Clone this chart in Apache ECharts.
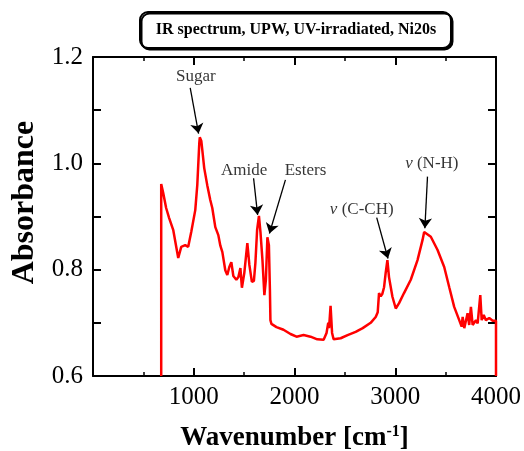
<!DOCTYPE html>
<html>
<head>
<meta charset="utf-8">
<script src="https://cdn.jsdelivr.net/npm/echarts@6/dist/echarts.min.js"></script>
<style>
html,body{margin:0;padding:0;background:#fff;}
#main{width:524px;height:451px;}
</style>
</head>
<body>
<div id="main"></div>
<script>
// spectrum (cm-1, absorbance)
var waveNum = [677,677,697,726,756,796,826,846,876,915,945,975,1015,1035,1055,1060,1075,1085,1104,1134,
	1164,1184,1214,1244,1264,1284,1313,1333,1353,1373,1393,1423,1443,1463,1478,1502,1532,1552,1577,1597,
	1612,1629,1647,1662,1682,1701,1716,1731,1746,1756,1761,1771,1821,1891,1960,2020,2090,2159,2226,2289,
	2318,2335,2343,2358,2373,2388,2458,2527,2607,2677,2756,2806,2826,2839,2856,2871,2889,2905,2922,2938,
	2972,3005,3038,3087,3154,3221,3271,3287,3353,3420,3486,3536,3585,3635,3659,3669,3685,3718,3734,3751,
	3768,3801,3818,3844,3858,3878,3900,3933,3967,4000,4000];
var absorb = [0.600,0.961,0.944,0.916,0.897,0.875,0.843,0.822,0.843,0.846,0.843,0.871,0.912,0.959,1.038,1.049,1.042,1.025,0.991,0.959,
	0.931,0.916,0.880,0.865,0.845,0.833,0.799,0.790,0.805,0.814,0.788,0.781,0.786,0.803,0.766,0.794,0.850,0.809,0.777,0.779,
	0.813,0.875,0.901,0.871,0.818,0.752,0.781,0.861,0.846,0.762,0.705,0.698,0.692,0.687,0.679,0.674,0.677,0.674,0.669,0.668,
	0.681,0.700,0.690,0.732,0.681,0.669,0.671,0.677,0.683,0.690,0.700,0.711,0.720,0.756,0.750,0.754,0.767,0.794,0.818,0.786,
	0.749,0.727,0.737,0.756,0.781,0.818,0.856,0.871,0.862,0.837,0.805,0.767,0.730,0.705,0.693,0.711,0.690,0.718,0.696,0.730,
	0.696,0.705,0.699,0.752,0.705,0.715,0.705,0.709,0.704,0.704,0.600];

var xTicks = [0, 1000, 2000, 3000, 4000];
var yTicks = [0.6, 0.8, 1.0, 1.2];

// peak labels: text, text position, arrow start, arrow tip
var annoText = ['Sugar', 'Amide', 'Esters', '{i|ν} (C-CH)', '{i|ν} (N-H)'];
var annoPos = [[1020,1.163],[1500,0.986],[2109,0.986],[2667,0.914],[3363,1.000]];
var arrowFrom = [[965,1.142],[1594,0.972],[1910,0.969],[2816,0.898],[3320,0.975]];
var arrowTo = [[1048,1.056],[1634,0.903],[1751,0.868],[2928,0.821],[3294,0.878]];

var serif = '"Liberation Serif", "Times New Roman", serif';

var spec = [];
for (var i = 0; i < waveNum.length; i++) {
	spec.push([waveNum[i], absorb[i]]);
}
var labelData = [];
var arrowData = [];
for (var j = 0; j < annoText.length; j++) {
	labelData.push({value: annoPos[j], name: annoText[j]});
	arrowData.push([{coord: arrowFrom[j]}, {coord: arrowTo[j]}]);
}

var myChart = echarts.init(document.getElementById('main'));

var tickStyle = {show: true, inside: true, length: 8, lineStyle: {color: '#000', width: 2}};
var minorStyle = {show: true, splitNumber: 2, length: 4, lineStyle: {color: '#000', width: 1.5}};
var lineSt = {show: true, onZero: false, lineStyle: {color: '#000', width: 2}};

option = {
	animation: false,
	backgroundColor: '#fff',
	graphic: [
		{
			type: 'rect',
			shape: {x: 140, y: 12, width: 311, height: 36, r: 8},
			style: {fill: '#fff', stroke: '#000', lineWidth: 2, shadowColor: '#000', shadowOffsetX: 1.5, shadowOffsetY: 1.5}
		},
		{
			type: 'text',
			x: 296, y: 30,
			style: {
				text: 'IR spectrum, UPW, UV-irradiated, Ni20s',
				fontFamily: serif, fontWeight: 'bold', fontSize: 16,
				fill: '#000', align: 'center', verticalAlign: 'middle'
			}
		}
	],
	grid: {left: 93, right: 28, top: 57, bottom: 75, outerBoundsMode: 'none', containLabel: false},
	xAxis: [
		{
			type: 'value',
			min: xTicks[0], max: xTicks[xTicks.length - 1], interval: 1000,
			position: 'bottom',
			axisLine: lineSt,
			axisTick: tickStyle,
			minorTick: minorStyle,
			splitLine: {show: false},
			axisLabel: {
				color: '#000', fontFamily: serif, fontSize: 25, margin: 9,
				formatter: function (v) { return v == 0 ? '' : v; }
			},
			name: 'Wavenumber [cm{sup|-1}]',
			nameLocation: 'middle',
			nameGap: 48,
			nameTextStyle: {
				color: '#000', fontFamily: serif, fontWeight: 'bold', fontSize: 27,
				rich: {sup: {fontFamily: serif, fontWeight: 'bold', fontSize: 16, verticalAlign: 'top', padding: [0, 0, 12, 0]}}
			}
		},
		{
			type: 'value',
			min: 0, max: 4000, interval: 1000,
			position: 'top',
			axisLine: lineSt,
			axisTick: tickStyle,
			minorTick: minorStyle,
			splitLine: {show: false},
			axisLabel: {show: false}
		}
	],
	yAxis: [
		{
			type: 'value',
			min: yTicks[0], max: yTicks[yTicks.length - 1], interval: 0.2,
			position: 'left',
			axisLine: lineSt,
			axisTick: tickStyle,
			minorTick: {show: true, splitNumber: 2, length: 8, lineStyle: {color: '#000', width: 2}},
			splitLine: {show: false},
			axisLabel: {
				color: '#000', fontFamily: serif, fontSize: 25, margin: 10,
				formatter: function (v) { return v.toFixed(1); }
			},
			name: 'Absorbance',
			nameLocation: 'middle',
			nameGap: 48,
			nameTextStyle: {color: '#000', fontFamily: serif, fontWeight: 'bold', fontSize: 32, padding: [0, 0, 0, 28]}
		},
		{
			type: 'value',
			min: 0.6, max: 1.2, interval: 0.2,
			position: 'right',
			axisLine: lineSt,
			axisTick: tickStyle,
			minorTick: {show: true, splitNumber: 2, length: 8, lineStyle: {color: '#000', width: 2}},
			splitLine: {show: false},
			axisLabel: {show: false}
		}
	],
	series: [
		{
			name: 'spectrum',
			type: 'line',
			data: spec,
			showSymbol: false,
			symbol: 'none',
			lineStyle: {color: '#ff0000', width: 2.5},
			z: 3,
			markLine: {
				silent: true,
				symbol: ['none', 'arrow'],
				symbolSize: 10,
				label: {show: false},
				lineStyle: {color: '#000', width: 1.3, type: 'solid'},
				data: arrowData
			}
		},
		{
			name: 'labels',
			type: 'scatter',
			data: labelData,
			symbolSize: 0,
			silent: true,
			label: {
				show: true,
				position: 'inside',
				color: '#000',
				textBorderWidth: 0,
				fontFamily: serif,
				fontSize: 17,
				formatter: function (p) { return p.name; },
				rich: {i: {fontFamily: serif, fontSize: 17, fontStyle: 'italic', color: '#000'}}
			}
		}
	]
};

myChart.setOption(option);
</script>
</body>
</html>
